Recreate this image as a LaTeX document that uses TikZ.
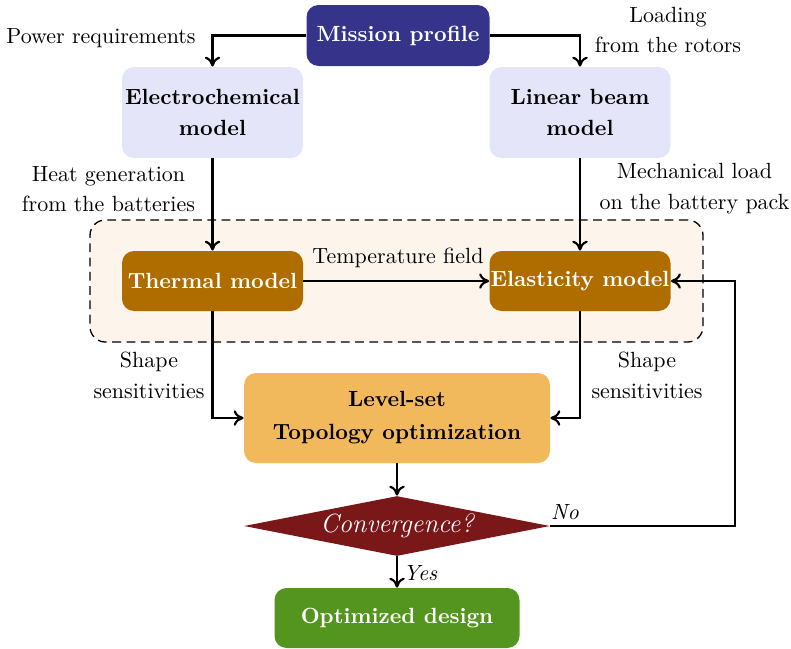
\documentclass[tikz,border=0pt]{standalone}
\usetikzlibrary{shapes.geometric,arrows.meta}
\definecolor{missionblue}{RGB}{53,52,138}
\definecolor{lightlav}{RGB}{228,229,248}
\definecolor{thermbrown}{RGB}{175,109,0}
\definecolor{levelorange}{RGB}{242,184,92}
\definecolor{convred}{RGB}{122,24,25}
\definecolor{optgreen}{RGB}{84,149,31}
\definecolor{groupfill}{RGB}{253,245,235}
\def\pxu{0.455pt}
\tikzset{
  box/.style={rectangle, rounded corners=5.5pt, align=center, font=\bfseries, inner sep=0pt},
  lbl/.style={align=center, inner sep=0pt},
  arr/.style={-{To[length=4.5pt,width=7pt]}, line width=1pt},
}
\begin{document}
\begin{tikzpicture}[x=\pxu,y=-\pxu]
\useasboundingbox (0,0) rectangle (791,648);
% group box
\node (group) [rectangle, rounded corners=7pt, draw, dash pattern=on 4pt off 2.5pt, fill=groupfill, line width=0.6pt,
  minimum width=613*\pxu, minimum height=122*\pxu] at (396.5,281) {};
% nodes
\node (mission) [box, fill=missionblue, text=white, minimum width=183*\pxu, minimum height=61*\pxu] at (398,35.5) {Mission profile};
\node (electro) [box, fill=lightlav, text=black, minimum width=181*\pxu, minimum height=91*\pxu] at (212.5,112.5) {Electrochemical\\[2pt]model};
\node (linear) [box, fill=lightlav, text=black, minimum width=181*\pxu, minimum height=91*\pxu] at (580,112.5) {Linear beam\\[2pt]model};
\node (thermal) [box, fill=thermbrown, text=white, minimum width=181*\pxu, minimum height=60*\pxu] at (212.5,281) {Thermal model};
\node (elastic) [box, fill=thermbrown, text=white, minimum width=181*\pxu, minimum height=60*\pxu] at (580,281) {Elasticity model};
\node (levelset) [box, fill=levelorange, text=black, minimum width=306*\pxu, minimum height=90*\pxu] at (397,418) {Level-set\\[3pt]Topology optimization};
\node (conv) [diamond, aspect=5.1, fill=convred, text=white, inner sep=0pt, font=\large\itshape,
  minimum width=306*\pxu, minimum height=60*\pxu] at (397,526) {Convergence?};
\node (optim) [box, fill=optgreen, text=white, minimum width=245*\pxu, minimum height=60*\pxu] at (397,618) {Optimized design};
% labels
\node (lpower) [lbl] at (101,38) {Power requirements};
\node (lload) [lbl] at (668,30) {Loading\\[2pt]from the rotors};
\node (lheat) [lbl] at (108.5,189) {Heat generation\\[2pt]from the batteries};
\node (lmech) [lbl] at (694.5,189) {Mechanical load\\[2pt]on the battery pack};
\node (ltemp) [lbl] at (398,258) {Temperature field};
\node (lshl) [lbl] at (149,375) {Shape\\[2pt]sensitivities};
\node (lshr) [lbl] at (647,375) {Shape\\[2pt]sensitivities};
\node (lno) [lbl, font=\itshape] at (565,512) {No};
\node (lyes) [lbl, font=\itshape, anchor=west] at (403,573) {Yes};
% connectors
\draw[arr] (mission.west) -| (electro.north);
\draw[arr] (mission.east) -| (linear.north);
\draw[arr] (electro.south) -- (thermal.north);
\draw[arr] (linear.south) -- (elastic.north);
\draw[arr] (thermal.east) -- (elastic.west);
\draw[arr] (thermal.south) |- (levelset.west);
\draw[arr] (elastic.south) |- (levelset.east);
\draw[arr] (levelset.south) -- (conv.north);
\draw[arr] (conv.south) -- (optim.north);
\coordinate (turn) at (735,526);
\draw[arr] (conv.east) -- (turn) |- (elastic.east);
\end{tikzpicture}
\end{document}
